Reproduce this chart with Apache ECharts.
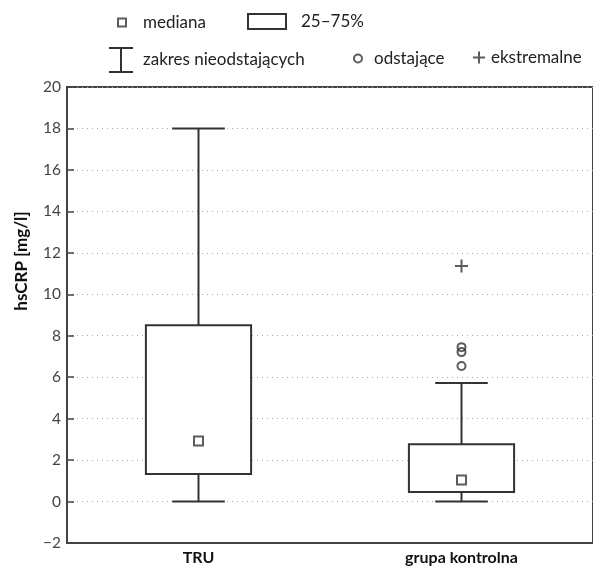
<!DOCTYPE html>
<html>
<head>
<meta charset="utf-8">
<script src="https://cdn.jsdelivr.net/npm/echarts@6/dist/echarts.min.js"></script>
<style>
html,body{margin:0;padding:0;background:#fff;}
#chart{width:593px;height:569px;}
</style>
</head>
<body>
<div id="chart"></div>
<script>
// ---- data ----
var categories = ['TRU', 'grupa kontrolna'];
var whiskerLow = [0, 0];
var q1 = [1.33, 0.46];
var median = [2.92, 1.04];
var q3 = [8.51, 2.77];
var whiskerHigh = [18, 5.72];
var outliersControl = [7.45, 7.21, 6.54];
var extremesControl = [11.36];
var yTicks = { min: -2, max: 20, interval: 2 };

var FONT = 'Lato, "Open Sans", sans-serif';
var INK = '#333';

var boxData = categories.map(function (c, i) { return [i, q1[i], q3[i]]; });
var whiskerData = categories.map(function (c, i) { return [i, whiskerLow[i], q1[i], q3[i], whiskerHigh[i]]; });
var medianData = categories.map(function (c, i) { return [i, median[i]]; });
var outlierData = outliersControl.map(function (v) { return [1, v]; });
var extremeData = extremesControl.map(function (v) { return [1, v]; });

var plusPath = 'path://M0,6 L12,6 M6,0 L6,12';
var whiskerIcon = 'path://M0,0 L24,0 M12,0 L12,24 M0,24 L24,24';

var chart = echarts.init(document.getElementById('chart'));

function legendItem(name, left, top, w, h, icon, style, padLeft) {
  return {
    left: left, top: top, itemWidth: w, itemHeight: h,
    padding: 0,
    selectedMode: false,
    data: [{ name: name, icon: icon, itemStyle: style }],
    textStyle: { fontFamily: FONT, fontSize: 17, color: '#222', padding: [0, 0, 0, padLeft] }
  };
}

chart.setOption({
  animation: false,
  backgroundColor: '#fff',
  legend: [
    legendItem('mediana', 117, 14, 8, 8, 'rect', { color: '#fff', borderColor: INK, borderWidth: 2 }, 12),
    legendItem('25–75%', 247, 13, 38, 15, 'rect', { color: '#fff', borderColor: INK, borderWidth: 2 }, 10),
    legendItem('zakres nieodstających', 108, 47, 24, 24, whiskerIcon, { color: 'transparent', borderColor: INK, borderWidth: 2 }, 5),
    legendItem('odstające', 353, 50, 8, 8, 'circle', { color: '#fff', borderColor: INK, borderWidth: 2 }, 7),
    legendItem('ekstremalne', 472, 49, 12, 12, plusPath, { color: 'transparent', borderColor: INK, borderWidth: 2 }, 1)
  ],
  grid: { left: 67, right: -3, top: 87, bottom: 26, show: true, borderColor: '#444', borderWidth: 2, backgroundColor: 'transparent' },
  xAxis: {
    type: 'category',
    data: categories,
    axisLine: { onZero: false, lineStyle: { color: '#444', width: 2 } },
    axisTick: { alignWithLabel: true, inside: true, length: 7, lineStyle: { color: '#444', width: 2 } },
    axisLabel: { fontFamily: FONT, fontSize: 16, color: '#111', fontWeight: 'bold', margin: 7 },
    splitLine: { show: false }
  },
  yAxis: {
    type: 'value',
    min: yTicks.min, max: yTicks.max, interval: yTicks.interval,
    name: 'hsCRP [mg/l]',
    nameLocation: 'middle',
    nameGap: 37,
    nameTextStyle: { fontFamily: FONT, fontSize: 17, color: '#111', fontWeight: 'bold', padding: [0, 0, 0, 108] },
    axisLine: { show: true, lineStyle: { color: '#444', width: 2 } },
    axisTick: { show: true, inside: true, length: 7, lineStyle: { color: '#444', width: 1.5 } },
    axisLabel: {
      fontFamily: FONT, fontSize: 15.5, color: '#444', margin: 6,
      formatter: function (v) { return String(v).replace('-', '\u2212'); }
    },
    splitLine: { show: true, lineStyle: { color: '#aaa', width: 1, type: [1, 4] } }
  },
  series: [
    {
      name: 'zakres nieodstających',
      type: 'custom',
      data: whiskerData,
      z: 2,
      renderItem: function (params, api) {
        var c = api.value(0);
        var lo = api.coord([c, api.value(1)]);
        var b1 = api.coord([c, api.value(2)]);
        var b3 = api.coord([c, api.value(3)]);
        var hi = api.coord([c, api.value(4)]);
        var half = api.size([1, 0])[0] * 0.1;
        var st = { stroke: INK, lineWidth: 2, fill: null };
        return {
          type: 'group',
          children: [
            { type: 'line', shape: { x1: lo[0], y1: lo[1], x2: b1[0], y2: b1[1] }, style: st },
            { type: 'line', shape: { x1: b3[0], y1: b3[1], x2: hi[0], y2: hi[1] }, style: st },
            { type: 'line', shape: { x1: lo[0] - half, y1: lo[1], x2: lo[0] + half, y2: lo[1] }, style: st },
            { type: 'line', shape: { x1: hi[0] - half, y1: hi[1], x2: hi[0] + half, y2: hi[1] }, style: st }
          ]
        };
      }
    },
    {
      name: '25–75%',
      type: 'custom',
      data: boxData,
      z: 3,
      renderItem: function (params, api) {
        var c = api.value(0);
        var a = api.coord([c, api.value(1)]);
        var b = api.coord([c, api.value(2)]);
        var w = api.size([1, 0])[0] * 0.4;
        return {
          type: 'rect',
          shape: { x: a[0] - w / 2, y: b[1], width: w, height: a[1] - b[1] },
          style: { fill: '#fff', stroke: INK, lineWidth: 2 }
        };
      }
    },
    {
      name: 'mediana',
      type: 'scatter',
      data: medianData,
      z: 4,
      symbol: 'rect',
      symbolSize: 9,
      itemStyle: { color: '#fff', borderColor: INK, borderWidth: 2 }
    },
    {
      name: 'odstające',
      type: 'scatter',
      data: outlierData,
      z: 4,
      symbol: 'circle',
      symbolSize: 8,
      itemStyle: { color: 'transparent', borderColor: INK, borderWidth: 2 }
    },
    {
      name: 'ekstremalne',
      type: 'scatter',
      data: extremeData,
      z: 4,
      symbol: plusPath,
      symbolSize: 13,
      itemStyle: { color: 'transparent', borderColor: INK, borderWidth: 2 }
    }
  ]
});
</script>
</body>
</html>
